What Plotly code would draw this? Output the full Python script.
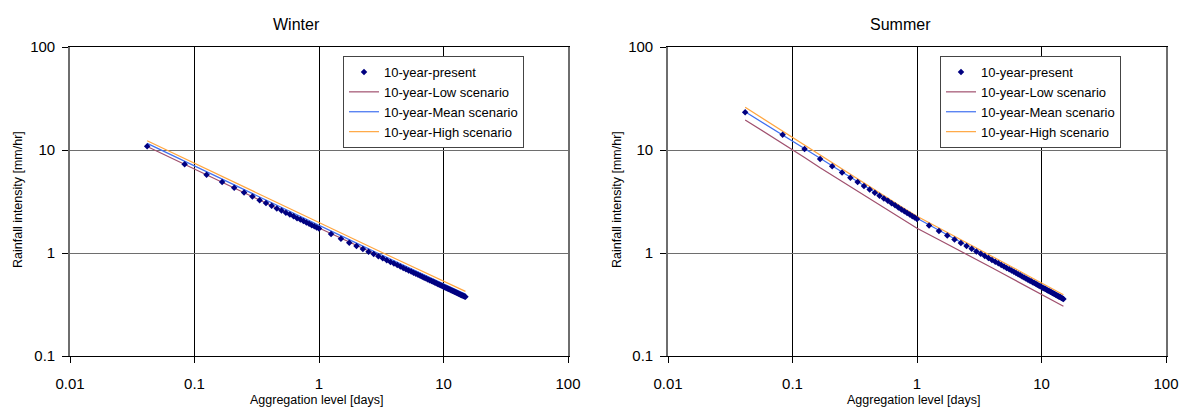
import plotly.graph_objects as go

# ---------------- data ----------------
DOT_HOURS = [1, 2, 3, 4, 5, 6, 7, 8, 9, 10, 11, 12, 13, 14, 15, 16, 17, 18, 19, 20, 21, 22, 23, 24,
             30, 36, 42, 48, 54, 60, 66, 72, 78, 84, 90, 96, 102, 108, 114, 120, 126, 132, 138, 144,
             150, 156, 162, 168, 174, 180, 186, 192, 198, 204, 210, 216, 222, 228, 234, 240, 246, 252,
             258, 264, 270, 276, 282, 288, 294, 300, 306, 312, 318, 324, 330, 336, 342, 348, 354, 360]

WINTER_PRESENT = [10.9, 7.29, 5.76, 4.88, 4.29, 3.86, 3.53, 3.26, 3.05, 2.87, 2.71, 2.58, 2.46, 2.36,
                  2.27, 2.18, 2.11, 2.04, 1.98, 1.92, 1.86, 1.82, 1.77, 1.73,
                  1.525, 1.376, 1.261, 1.170, 1.094, 1.031, 0.977, 0.930, 0.889, 0.852, 0.820, 0.790,
                  0.764, 0.740, 0.717, 0.697, 0.678, 0.660, 0.644, 0.629, 0.614, 0.601, 0.588, 0.576,
                  0.565, 0.554, 0.544, 0.534, 0.525, 0.516, 0.508, 0.500, 0.492, 0.485, 0.478, 0.471,
                  0.465, 0.458, 0.452, 0.446, 0.441, 0.435, 0.430, 0.425, 0.420, 0.415, 0.411, 0.406,
                  0.402, 0.398, 0.393, 0.389, 0.386, 0.382, 0.378, 0.375]

SUMMER_PRESENT = [23.2, 14.1, 10.2, 8.20, 6.94, 6.05, 5.39, 4.88, 4.46, 4.13, 3.84, 3.60, 3.39, 3.21,
                  3.04, 2.90, 2.77, 2.65, 2.55, 2.45, 2.36, 2.28, 2.21, 2.14,
                  1.847, 1.638, 1.479, 1.354, 1.253, 1.169, 1.098, 1.036, 0.983, 0.936, 0.895, 0.857,
                  0.823, 0.793, 0.765, 0.740, 0.716, 0.695, 0.675, 0.656, 0.638, 0.622, 0.607, 0.593,
                  0.579, 0.566, 0.554, 0.542, 0.532, 0.521, 0.511, 0.502, 0.493, 0.484, 0.476, 0.468,
                  0.461, 0.453, 0.446, 0.440, 0.433, 0.427, 0.421, 0.415, 0.410, 0.404, 0.399, 0.394,
                  0.389, 0.384, 0.379, 0.375, 0.371, 0.366, 0.362, 0.358]

LINE_HOURS = [1, 2, 3, 4, 6, 8, 12, 18, 24, 36, 48, 72, 96, 120, 144, 192, 240, 288, 360]

WINTER_LOW = [10.8, 7.22, 5.76, 4.88, 3.86, 3.26, 2.58, 2.05, 1.75, 1.39, 1.18, 0.945, 0.805, 0.710,
              0.641, 0.547, 0.483, 0.436, 0.385]
WINTER_MEAN = [11.6, 7.76, 6.13, 5.20, 4.11, 3.47, 2.75, 2.17, 1.84, 1.465, 1.246, 0.990, 0.841, 0.742,
               0.670, 0.569, 0.502, 0.453, 0.400]
WINTER_HIGH = [12.3, 8.24, 6.51, 5.51, 4.36, 3.68, 2.92, 2.31, 1.95, 1.555, 1.322, 1.051, 0.893, 0.788,
               0.711, 0.604, 0.532, 0.481, 0.424]

SUMMER_LOW = [19.6, 11.6, 8.45, 6.72, 4.96, 3.95, 2.92, 2.16, 1.74, 1.343, 1.124, 0.860, 0.720, 0.622,
              0.554, 0.461, 0.398, 0.353, 0.304]
SUMMER_MEAN = [23.5, 14.1, 10.3, 8.30, 6.12, 4.94, 3.65, 2.69, 2.17, 1.66, 1.375, 1.052, 0.870, 0.752,
               0.667, 0.551, 0.476, 0.422, 0.365]
SUMMER_HIGH = [26.0, 15.2, 11.1, 8.86, 6.47, 5.20, 3.82, 2.81, 2.27, 1.753, 1.449, 1.119, 0.926, 0.807,
               0.715, 0.591, 0.515, 0.457, 0.394]

X_TICKS = [0.01, 0.1, 1, 10, 100]
X_TICK_TEXT = ["0.01", "0.1", "1", "10", "100"]
Y_TICKS = [0.1, 1, 10, 100]
Y_TICK_TEXT = ["0.1", "1", "10", "100"]

SERIES_NAMES = ["10-year-present", "10-year-Low scenario", "10-year-Mean scenario", "10-year-High scenario"]
PANEL_TITLES = ["Winter", "Summer"]
X_TITLE = "Aggregation level [days]"
Y_TITLE = "Rainfall intensity [mm/hr]"

# ---------------- styling ----------------
W, H = 1179, 408
FONT = "Liberation Sans, Arial, sans-serif"
C_DOT = "#000080"
C_LOW = "#A0506E"
C_MEAN = "#3F6FF0"
C_HIGH = "#FFA640"


def px(x):
    return x / W


def py(y):
    return 1 - y / H


dot_days = [h / 24 for h in DOT_HOURS]
line_days = [h / 24 for h in LINE_HOURS]

fig = go.Figure()

panels = [
    ("x", "y", "legend", WINTER_PRESENT, WINTER_LOW, WINTER_MEAN, WINTER_HIGH),
    ("x2", "y2", "legend2", SUMMER_PRESENT, SUMMER_LOW, SUMMER_MEAN, SUMMER_HIGH),
]

for xa, ya, lg, pres, low, mean, high in panels:
    for name, vals, col, rank in [(SERIES_NAMES[1], low, C_LOW, 2),
                                  (SERIES_NAMES[2], mean, C_MEAN, 3),
                                  (SERIES_NAMES[3], high, C_HIGH, 4)]:
        fig.add_trace(go.Scatter(x=line_days, y=vals, mode="lines", name=name,
                                 line=dict(color=col, width=1.2), xaxis=xa, yaxis=ya,
                                 legend=lg, legendrank=rank))
    fig.add_trace(go.Scatter(x=dot_days, y=pres, mode="markers", name=SERIES_NAMES[0],
                             marker=dict(color=C_DOT, symbol="diamond", size=5,
                                         line=dict(width=0)),
                             xaxis=xa, yaxis=ya, legend=lg, legendrank=1))

xd = [[px(70), px(568)], [px(668), px(1166)]]
yd = [py(356), py(47)]

axis_common_x = dict(type="log", range=[-2, 2], tickvals=X_TICKS, ticktext=X_TICK_TEXT,
                     showgrid=True, gridcolor="#000000", gridwidth=1,
                     showline=True, linecolor="#000000", linewidth=1, mirror=True,
                     ticks="outside", ticklen=6, tickcolor="#000000",
                     tickfont=dict(family=FONT, size=15, color="#000000"),
                     ticklabelstandoff=8, ticklabeloverflow="allow",
                     zeroline=False, automargin=False)
axis_common_y = dict(type="log", range=[-1, 2], tickvals=Y_TICKS, ticktext=Y_TICK_TEXT,
                     showgrid=True, gridcolor="#6E6E6E", gridwidth=1.3,
                     showline=True, linecolor="#6E6E6E", linewidth=1.6, mirror=True,
                     ticks="outside", ticklen=6, tickcolor="#000000",
                     tickfont=dict(family=FONT, size=15, color="#000000"),
                     ticklabelstandoff=4, ticklabeloverflow="allow",
                     zeroline=False, automargin=False)

legend_style = dict(xanchor="left", yanchor="top",
                    bgcolor="white", bordercolor="#444444", borderwidth=1,
                    font=dict(family=FONT, size=13, color="#000000"),
                    tracegroupgap=0, itemwidth=30)

fig.update_layout(
    width=W, height=H,
    margin=dict(l=0, r=0, t=0, b=0),
    paper_bgcolor="white", plot_bgcolor="white",
    font=dict(family=FONT, color="#000000"),
    xaxis=dict(domain=xd[0], anchor="y", **axis_common_x),
    yaxis=dict(domain=yd, anchor="x", **axis_common_y),
    xaxis2=dict(domain=xd[1], anchor="y2", **axis_common_x),
    yaxis2=dict(domain=yd, anchor="x2", **axis_common_y),
    legend=dict(x=px(343), y=py(56), **legend_style),
    legend2=dict(x=px(940), y=py(56), **legend_style),
    showlegend=True,
)

annotations = []
for i, (cx, yx) in enumerate([(296, 18), (900, 617)]):
    annotations.append(dict(text=PANEL_TITLES[i], x=px(cx), y=py(24), xref="paper", yref="paper",
                            showarrow=False, xanchor="center", yanchor="middle",
                            font=dict(family=FONT, size=16, color="#000000")))
    annotations.append(dict(text=Y_TITLE, x=px(yx), y=py(200), xref="paper", yref="paper",
                            showarrow=False, xanchor="center", yanchor="middle", textangle=-90,
                            font=dict(family=FONT, size=12.5, color="#000000")))
for cx in [316, 913]:
    annotations.append(dict(text=X_TITLE, x=px(cx), y=py(400), xref="paper", yref="paper",
                            showarrow=False, xanchor="center", yanchor="middle",
                            font=dict(family=FONT, size=12.5, color="#000000")))
fig.update_layout(annotations=annotations)

fig.write_html("out.html",
               config={"displayModeBar": False},
               post_script="document.body.style.margin='0';document.body.style.overflow='hidden';")
